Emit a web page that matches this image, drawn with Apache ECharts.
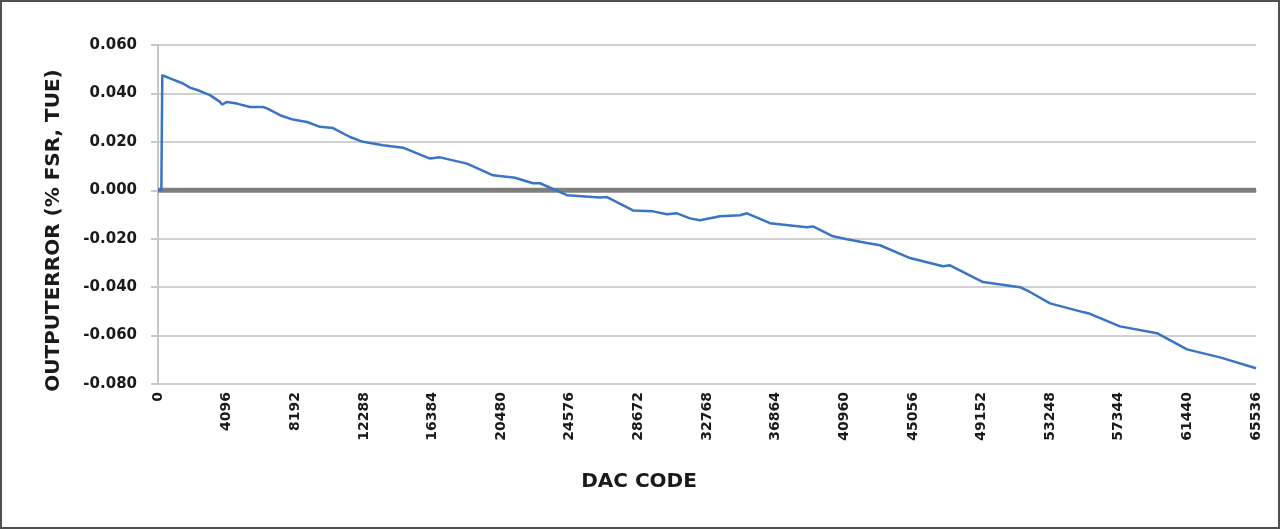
<!DOCTYPE html>
<html>
<head>
<meta charset="utf-8">
<script src="https://cdn.jsdelivr.net/npm/echarts@6/dist/echarts.min.js"></script>
<style>
    html, body {
        margin: 0;
        padding: 0;
        background: #fff;
    }
    #frame {
        box-sizing: border-box;
        width: 1280px;
        height: 529px;
        border: 2px solid #505050;
    }
    #chart {
        width: 1276px;
        height: 525px;
    }
</style>
</head>
<body>
<div id="frame"><div id="chart"></div></div>
<script>
    // DAC code / output error (% FSR, TUE)
    const codes = [
        0, 200, 256, 716, 1492, 1910, 2387, 3104, 3701, 3820, 4118, 4715,
        5491, 6267, 6506, 7282, 8058, 8893, 9669, 10445, 11460, 12236,
        13429, 14623, 16235, 16832, 18443, 19995, 21308, 22382, 22800,
        24412, 26381, 26799, 28351, 29545, 30380, 30977, 31753, 32350,
        33544, 34737, 35155, 36528, 38736, 39095, 40288, 41124, 42317,
        43093, 44884, 46854, 47271, 49241, 51449, 52046, 53240, 55210,
        55628, 57418, 59627, 61417, 63387, 65536
    ];
    const errors = [
        0, 0, 0.0475, 0.0462, 0.0441, 0.0424, 0.0413, 0.0393, 0.0365, 0.0354,
        0.0365, 0.0358, 0.0344, 0.0344, 0.0338, 0.031, 0.0292, 0.0282,
        0.0262, 0.0257, 0.022, 0.020, 0.0186, 0.0176, 0.0131, 0.0136,
        0.011, 0.0062, 0.0052, 0.0029, 0.0029, -0.002, -0.003, -0.0028,
        -0.0083, -0.0087, -0.0099, -0.0095, -0.0116, -0.0124, -0.0107,
        -0.0103, -0.0095, -0.0136, -0.0153, -0.0149, -0.019, -0.0202,
        -0.0218, -0.0227, -0.028, -0.0314, -0.031, -0.0379, -0.040,
        -0.042, -0.0467, -0.0503, -0.051, -0.0562, -0.059, -0.0657,
        -0.069, -0.0735
    ];
    // ideal (zero error) reference line
    const idealCodes = [0, 65536];
    const idealErrors = [0, 0];

    const yTicks = { min: -0.08, max: 0.06, interval: 0.02 };
    const xTicks = { min: 0, max: 65536, interval: 4096 };

    const chart = echarts.init(document.getElementById('chart'));
    const font = '"DejaVu Sans", Verdana, sans-serif';

    chart.setOption({
        animation: false,
        grid: {
            left: 156,
            right: 22,
            top: 43,
            bottom: 143,
            containLabel: false
        },
        xAxis: {
            type: 'value',
            min: xTicks.min,
            max: xTicks.max,
            interval: xTicks.interval,
            name: 'DAC CODE',
            nameLocation: 'middle',
            nameGap: 88,
            nameTextStyle: {
                fontFamily: font,
                fontWeight: 'bold',
                fontSize: 20,
                color: '#1a1a1a',
                padding: [0, 136, 0, 0]  // title sits left of plot centre
            },
            axisLine: { show: true, lineStyle: { color: '#c8c8c8', width: 2 } },
            axisTick: { show: false },
            splitLine: { show: false },
            axisLabel: {
                rotate: 90,
                margin: 8,
                fontFamily: font,
                fontWeight: 'bold',
                fontSize: 14,
                color: '#1a1a1a',
                showMinLabel: true,
                showMaxLabel: true,
                formatter: function (v) { return String(v); }
            }
        },
        yAxis: {
            type: 'value',
            min: yTicks.min,
            max: yTicks.max,
            interval: yTicks.interval,
            name: 'OUTPUTERROR (% FSR, TUE)',
            nameLocation: 'middle',
            nameRotate: 90,
            nameGap: 94,
            nameTextStyle: {
                fontFamily: font,
                fontWeight: 'bold',
                fontSize: 20,
                color: '#1a1a1a',
                padding: [0, 32, 0, 0]  // nudges the title a little below centre
            },
            axisLine: { show: true, lineStyle: { color: '#c8c8c8', width: 2 } },
            axisTick: { show: true, length: 7, lineStyle: { color: '#c8c8c8', width: 2 } },
            splitLine: { show: true, lineStyle: { color: '#d0d0d0', width: 2 } },
            axisLabel: {
                margin: 21,
                fontFamily: font,
                fontWeight: 'bold',
                fontSize: 15,
                color: '#1a1a1a',
                formatter: function (v) { return v.toFixed(3); }
            }
        },
        series: [{
            type: 'line',
            name: 'Ideal',
            data: idealCodes.map((c, i) => [c, idealErrors[i]]),
            symbol: 'none',
            silent: true,
            lineStyle: { color: '#7f7f7f', width: 5 }
        }, {
            type: 'line',
            name: 'TUE',
            data: codes.map((c, i) => [c, errors[i]]),
            symbol: 'none',
            silent: true,
            lineStyle: { color: '#3b74c2', width: 2.5 }
        }]
    });
</script>
</body>
</html>
